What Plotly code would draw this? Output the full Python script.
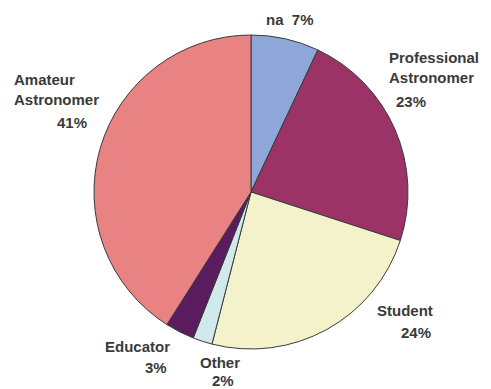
import plotly.graph_objects as go

W, H = 491, 389

# Survey respondents by category, clockwise from 12 o'clock
categories = ["na", "Professional Astronomer", "Student", "Other", "Educator", "Amateur Astronomer"]
shares = [7, 23, 24, 2, 3, 41]
colors = ["#8EA6D8", "#9B3366", "#F4F2CB", "#CFE9EC", "#5B1B5F", "#E98282"]

# How each category name is broken over lines in its label
name_lines = {
    "na": ["na"],
    "Professional Astronomer": ["Professional", "Astronomer"],
    "Student": ["Student"],
    "Other": ["Other"],
    "Educator": ["Educator"],
    "Amateur Astronomer": ["Amateur", "Astronomer"],
}
# Label placement in pixels: (name x, name y, name anchor, pct x, pct y)
label_px = {
    "Professional Astronomer": (387, 68, "left", 411, 101),
    "Student": (405, 310, "center", 416, 332),
    "Other": (220, 362, "center", 223, 380),
    "Educator": (137, 346, "center", 156, 367),
    "Amateur Astronomer": (12, 89, "left", 72, 122),
}
na_label_px = (290, 19)

label_font = dict(family="Liberation Sans, Arial, sans-serif", size=15, color="#3a3a3a")

fig = go.Figure(
    go.Pie(
        labels=categories,
        values=shares,
        sort=False,
        direction="clockwise",
        rotation=0,
        marker=dict(colors=colors, line=dict(color="#3a3a3a", width=1)),
        textinfo="none",
        hoverinfo="label+percent",
        showlegend=False,
        domain=dict(x=[94 / W, 408 / W], y=[1 - 349 / H, 1 - 35 / H]),
    )
)


def add_text(text, x_px, y_px, anchor="center"):
    fig.add_annotation(
        x=x_px / W, y=1 - y_px / H, xref="paper", yref="paper",
        text="<b>" + text + "</b>", showarrow=False,
        align=anchor, xanchor=anchor, yanchor="middle",
        font=label_font,
    )


for cat, v in zip(categories, shares):
    if cat == "na":
        add_text(f"{name_lines[cat][0]}&nbsp;&nbsp;{v}%", *na_label_px)
        continue
    nx, ny, anchor, px, py = label_px[cat]
    add_text("<br>".join(name_lines[cat]), nx, ny, anchor)
    add_text(f"{v}%", px, py)

fig.update_layout(
    width=W, height=H,
    margin=dict(l=0, r=0, t=0, b=0),
    paper_bgcolor="white", plot_bgcolor="white",
)

fig.write_html("out.html")
